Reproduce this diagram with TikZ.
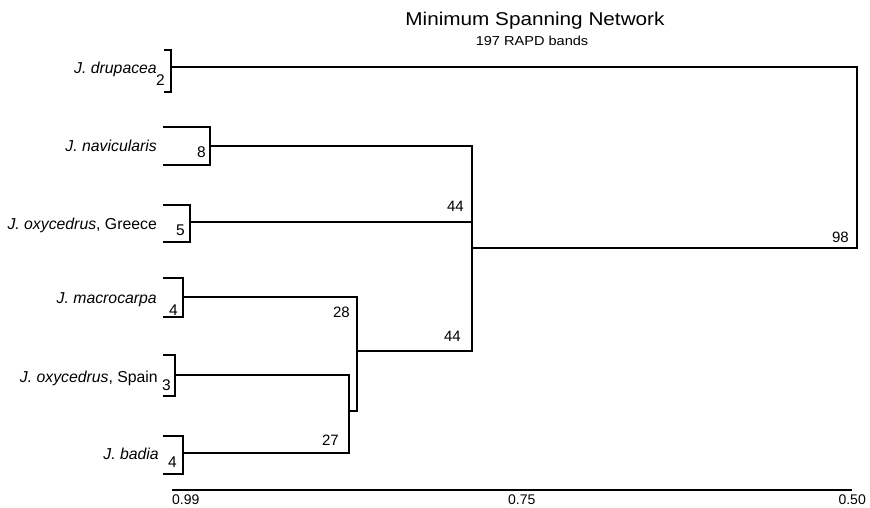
\documentclass[tikz,border=0pt]{standalone}
\usepackage{fontspec}
\setmainfont{Liberation Sans}
\newfontfamily\titlefont[FakeStretch=1.12]{Liberation Sans}
\begin{document}
\begin{tikzpicture}[x=1pt,y=-1pt,
  link/.style={line width=1.4pt},
  bracket/.style={line width=2.2pt},
  taxon/.style={anchor=base east,inner sep=0pt,font=\fontsize{15.8}{18}\selectfont},
  count/.style={anchor=base east,inner sep=0pt,font=\fontsize{15.5}{18}\selectfont},
  support/.style={anchor=base east,inner sep=0pt,font=\fontsize{15}{17}\selectfont},
  tick/.style={inner sep=0pt,font=\fontsize{14}{16}\selectfont}]
\useasboundingbox (0,0) rectangle (870,507);
% title
\node[inner sep=0pt,anchor=base,font=\titlefont\fontsize{18.5}{22}\selectfont] (title) at (535,25) {Minimum Spanning Network};
\node[inner sep=0pt,anchor=base,font=\titlefont\fontsize{13}{16}\selectfont] (subtitle) at (532,45) {197 RAPD bands};
% taxa labels
\node[taxon] (ldru) at (157,73) {\itshape J. drupacea};
\node[taxon] (lnav) at (157,151) {\itshape J. navicularis};
\node[taxon] (lgre) at (157,229) {{\itshape J. oxycedrus}, Greece};
\node[taxon] (lmac) at (157,303) {\itshape J. macrocarpa};
\node[taxon] (lspa) at (158,382) {{\itshape J. oxycedrus}, Spain};
\node[taxon] (lbad) at (159,459) {\itshape J. badia};
% counts
\node[count] (cdru) at (165,85) {2};
\node[count] (cnav) at (206,157) {8};
\node[count] (cgre) at (185,235) {5};
\node[count] (cmac) at (178,315) {4};
\node[count] (cspa) at (171,390) {3};
\node[count] (cbad) at (177,467) {4};
% bracket coordinates
\coordinate (druT) at (164,50); \coordinate (dru) at (171,67); \coordinate (druB) at (164,92);
\coordinate (navT) at (163,127); \coordinate (nav) at (210,146); \coordinate (navB) at (163,165);
\coordinate (greT) at (163,205); \coordinate (gre) at (190,222); \coordinate (greB) at (163,242);
\coordinate (macT) at (163,278); \coordinate (mac) at (183,297); \coordinate (macB) at (163,317);
\coordinate (spaT) at (163,355); \coordinate (spa) at (175,375); \coordinate (spaB) at (163,396);
\coordinate (badT) at (163,436); \coordinate (bad) at (183,453); \coordinate (badB) at (163,474);
\foreach \t in {dru,nav,gre,mac,spa,bad}{
  \draw[bracket] (\t T) -| (\t) |- (\t B);
}
% internal nodes
\coordinate (n27) at (349,411);
\coordinate (n28) at (357,351);
\coordinate (n44) at (472,248);
\coordinate (n98) at (857,160);
\draw[link] (spa) -| (n27) |- (bad);
\draw[link] (mac) -| (n28) |- (n27);
\draw[link] (nav) -| (n44) |- (n28);
\draw[link] (gre) -- (gre -| n44);
\draw[link] (dru) -| (n98) |- (n44);
% support values
\node[support] (s27) at (339,445) {27};
\node[support] (s28) at (350,317) {28};
\node[support] (s44a) at (464,211) {44};
\node[support] (s44b) at (461,341) {44};
\node[support] (s98) at (849,242) {98};
% axis
\coordinate (ax0) at (172,490);
\coordinate (ax1) at (852,490);
\draw[line width=1.2pt] (ax0) -- (ax1);
\node[tick,anchor=base west] (t099) at (172,504) {0.99};
\node[tick,anchor=base west] (t075) at (508,504) {0.75};
\node[tick,anchor=base east] (t050) at (866,504) {0.50};
\end{tikzpicture}
\end{document}
